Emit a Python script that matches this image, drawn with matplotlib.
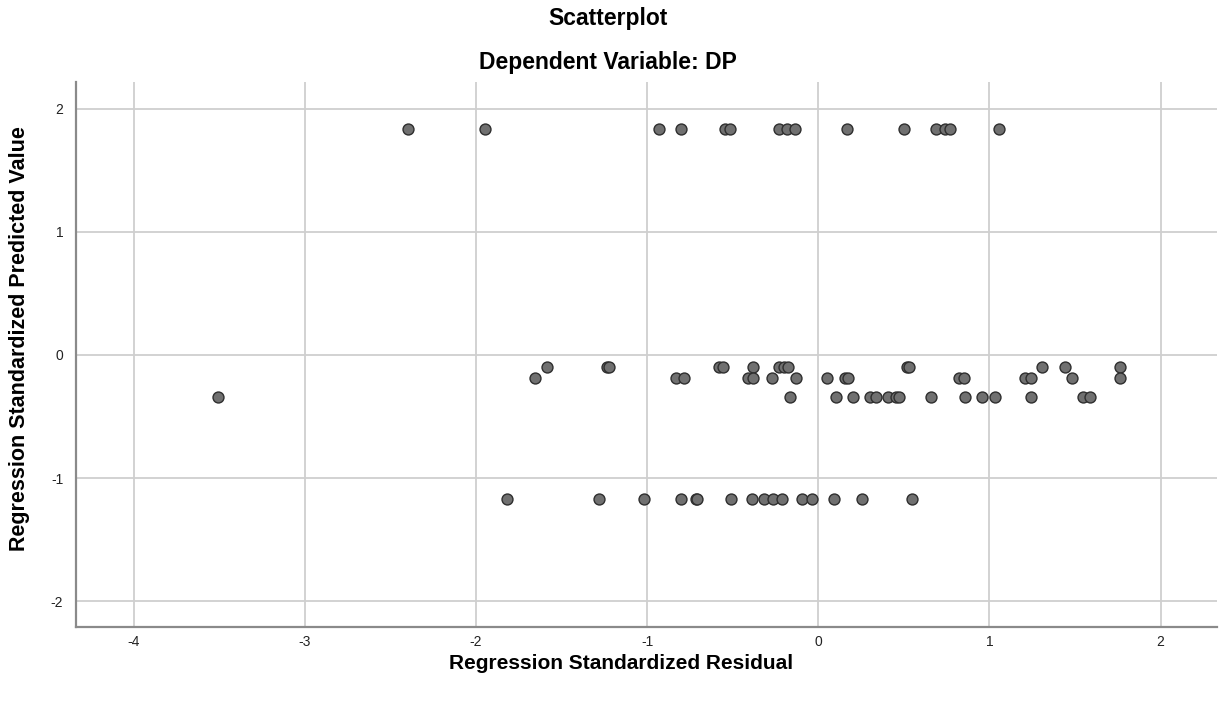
import matplotlib.pyplot as plt
import numpy as np

plt.rcParams['font.family'] = ['Liberation Sans', 'DejaVu Sans']
plt.rcParams['axes.unicode_minus'] = False

# Standardized predicted value levels (one per group of points)
pred_levels = [1.832, -0.100, -0.184, -0.345, -1.171]

# Standardized residuals for each predicted-value level
resid_top = [-2.40, -1.945, -0.932, -0.804, -0.545, -0.516, -0.23, -0.18, -0.136,
             0.166, 0.50, 0.69, 0.74, 0.77, 1.057]
resid_mid1 = [-1.587, -1.232, -1.222, -0.578, -0.558, -0.380, -0.228, -0.200, -0.175,
              0.516, 0.530, 1.305, 1.441, 1.762]
resid_mid2 = [-1.655, -0.831, -0.787, -0.409, -0.383, -0.272, -0.130, 0.049, 0.156,
              0.175, 0.824, 0.851, 1.207, 1.246, 1.484, 1.762]
resid_mid3 = [-3.508, -0.165, 0.103, 0.204, 0.302, 0.335, 0.409, 0.454, 0.473,
              0.658, 0.857, 0.954, 1.032, 1.246, 1.548, 1.587]
resid_low = [-1.820, -1.279, -1.018, -0.802, -0.714, -0.707, -0.512, -0.385, -0.317,
             -0.266, -0.210, -0.097, -0.039, 0.092, 0.253, 0.546]

x_ticks = [-4, -3, -2, -1, 0, 1, 2]
y_ticks = [-2, -1, 0, 1, 2]

groups = [resid_top, resid_mid1, resid_mid2, resid_mid3, resid_low]
resid = np.concatenate([np.array(g) for g in groups])
pred = np.concatenate([np.full(len(g), lv) for g, lv in zip(groups, pred_levels)])

fig = plt.figure(figsize=(12.21, 7.03), dpi=100)
ax = fig.add_axes([0.062, 0.108, 0.9347, 0.776])

ax.scatter(resid, pred, s=62, facecolor='#707070', edgecolor='#2e2e2e',
           linewidth=1.0, zorder=3)

ax.set_xlim(-4.34, 2.33)
ax.set_ylim(-2.21, 2.22)
ax.set_xticks(x_ticks)
ax.set_yticks(y_ticks)
ax.grid(True, color='#cfcfcf', linewidth=1.3, zorder=0)
ax.set_axisbelow(True)
ax.tick_params(length=0, labelsize=10, colors='#222222')
ax.tick_params(axis='x', pad=6)
ax.tick_params(axis='y', pad=9)

for side in ['top', 'right']:
    ax.spines[side].set_visible(False)
for side in ['left', 'bottom']:
    ax.spines[side].set_color('#8a8a8a')
    ax.spines[side].set_linewidth(1.6)

fig.text(0.498, 0.974, 'Scatterplot', ha='center', va='center',
         fontsize=16.5, fontweight='bold')
fig.text(0.498, 0.911, 'Dependent Variable: DP', ha='center', va='center',
         fontsize=16.5, fontweight='bold')
fig.text(0.509, 0.056, 'Regression Standardized Residual', ha='center', va='center',
         fontsize=15, fontweight='bold')
fig.text(0.016, 0.518, 'Regression Standardized Predicted Value', ha='center',
         va='center', rotation=90, fontsize=15.5, fontweight='bold')

fig.savefig('out.png', dpi=100, facecolor='white')
